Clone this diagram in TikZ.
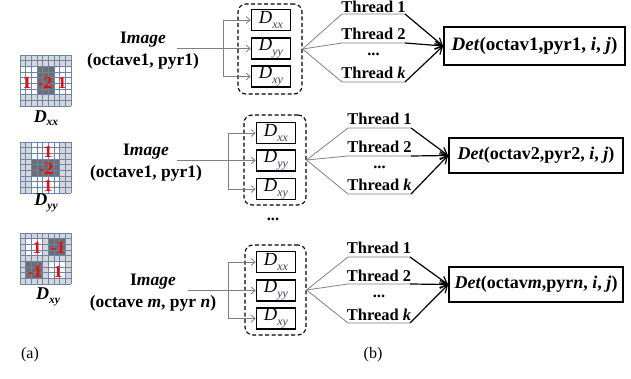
\documentclass[tikz,border=0pt]{standalone}
\usepackage{fontspec}
\setmainfont{Liberation Serif}
\usetikzlibrary{arrows.meta}
\definecolor{conngray}{HTML}{808080}
\definecolor{gridblue}{HTML}{6A84AE}
\definecolor{cellgray}{HTML}{D6D6D6}
\definecolor{celldark}{HTML}{6E6E6E}
\definecolor{numred}{HTML}{FF0000}
\definecolor{subgray}{HTML}{404060}
\newcommand{\fsz}[2]{\fontsize{#1}{#2}\selectfont}
\newcommand{\mysub}[1]{\raisebox{-0.45ex}{\fsz{11.5}{11.5}\itshape #1}}
\newcommand{\boxsub}[1]{\raisebox{-0.55ex}{\fsz{12}{12}\itshape\color{subgray}#1}}
\newcommand{\gridlinesnine}{%
  \foreach \k in {0,...,9} {
    \draw[gridblue, line width=0.45pt] (\k,0) -- (\k,9);
    \draw[gridblue, line width=0.45pt] (0,\k) -- (9,\k);
  }}
\begin{document}
\begin{tikzpicture}[x=1pt,y=-1pt,
  dbox/.style={draw, line width=1.6pt, minimum width=39pt, minimum height=21pt, inner sep=0pt, font=\fsz{18.5}{19}},
  dashbox/.style={draw, line width=1.1pt, rounded corners=8pt, dash pattern=on 4pt off 2.5pt, minimum height=90pt, inner sep=0pt},
  detbox/.style={draw, line width=1.8pt, inner sep=0pt, font=\bfseries\fsz{18}{20}},
  conn/.style={draw=conngray, line width=0.8pt},
  carrow/.style={conn, -{Straight Barb[length=4pt,width=7pt]}},
  final/.style={draw=black, line width=1.2pt, -{Straight Barb[length=7pt,width=8pt]}},
  thr/.style={font=\bfseries\fsz{16.5}{18}, inner sep=0pt, anchor=base},
  imglbl/.style={font=\bfseries\fsz{17.5}{22}, align=center, inner sep=0pt},
  num/.style={text=numred, font=\bfseries\fsz{17}{17}, inner sep=0pt},
  glbl/.style={font=\bfseries\itshape\fsz{18}{18}, inner sep=0pt},
  captxt/.style={font=\fsz{16}{16}, inner sep=0pt}
]
\useasboundingbox (0,0) rectangle (631,379);

% ---------- panel (a) ----------
\begin{scope}[shift={(20,55)}, x=5.667pt, y=-5.667pt]
  \fill[cellgray] (0,0) rectangle (9,9);
  \fill[white] (0,2) rectangle (3,7);
  \fill[celldark] (3,2) rectangle (6,7);
  \fill[white] (6,2) rectangle (9,7);
  \gridlinesnine
\end{scope}
\node[num] (nxa) at (27,83) {1};
\node[num] (nxb) at (45,83) {-2};
\node[num] (nxc) at (62,83) {1};
\node[glbl] (lxx) at (46,118) {D\mysub{xx}};

\begin{scope}[shift={(20,142)}, x=5.667pt, y=-5.667pt]
  \fill[cellgray] (0,0) rectangle (9,9);
  \fill[white] (2,0) rectangle (7,3);
  \fill[celldark] (2,3) rectangle (7,6);
  \fill[white] (2,6) rectangle (7,9);
  \gridlinesnine
\end{scope}
\node[num] (nya) at (48,152) {1};
\node[num] (nyb) at (46,169) {-2};
\node[num] (nyc) at (48,186) {1};
\node[glbl] (lyy) at (46,203) {D\mysub{yy}};

\begin{scope}[shift={(20,233)}, x=5.667pt, y=-5.667pt]
  \fill[cellgray] (0,0) rectangle (9,9);
  \fill[white] (1,1) rectangle (4,4);
  \fill[celldark] (5,1) rectangle (8,4);
  \fill[celldark] (1,5) rectangle (4,8);
  \fill[white] (5,5) rectangle (8,8);
  \gridlinesnine
\end{scope}
\node[num] (nza) at (37,248) {1};
\node[num] (nzb) at (58,248) {-1};
\node[num] (nzc) at (35,272) {-1};
\node[num] (nzd) at (58,272) {1};
\node[glbl] (lxy) at (48,297) {D\mysub{xy}};

\node[captxt] (capa) at (30,355) {(a)};
\node[captxt] (capb) at (373,355) {(b)};

% ---------- row 1 ----------
\node[imglbl] (img1) at (143,51) {I\textit{mage}\\(octave1, pyr1)};
\node[dashbox, minimum width=64pt] (g1) at (270,49) {};
\node[dbox] (xx1) at (271,20) {\textit{D}\boxsub{xx}};
\node[dbox] (yy1) at (271,48.5) {\textit{D}\boxsub{yy}};
\node[dbox] (xy1) at (271,76.5) {\textit{D}\boxsub{xy}};
\coordinate (s1) at (177,48.5);
\coordinate (bt1) at (223,20);
\coordinate (bb1) at (223,76.5);
\draw[carrow] (s1) -- (yy1.west);
\draw[conn] (bt1) -- (bb1);
\draw[carrow] (bt1) -- (xx1.west);
\draw[carrow] (bb1) -- (xy1.west);
\node[detbox, minimum width=181pt, minimum height=38pt, font=\bfseries\fsz{19}{21}] (det1) at (534.5,46) {\textit{Det}(octav1,pyr1, \textit{i}, \textit{j})};
\coordinate (a11) at (342,14); \coordinate (b11) at (405,14);
\coordinate (a12) at (342,43); \coordinate (b12) at (405,43);
\coordinate (a13) at (342,82); \coordinate (b13) at (405,82);
\node[thr] (t11) at (373.5,12.5) {Thread 1};
\node[thr] (t12) at (373.5,40) {Thread 2};
\node[thr] (t1d) at (373.5,56) {...};
\node[thr] (t13) at (373.5,79) {Thread \textit{k}};
\draw[conn] (g1.east) -- (a11) -- (b11);
\draw[conn] (g1.east) -- (a12) -- (b12);
\draw[conn] (g1.east) -- (a13) -- (b13);
\draw[final] (b11) -- (det1.west);
\draw[final] (b12) -- (det1.west);
\draw[final] (b13) -- (det1.west);

% ---------- row 2 ----------
\node[imglbl] (img2) at (146,163) {I\textit{mage}\\(octave1, pyr1)};
\node[dashbox, minimum width=62pt] (g2) at (275,160) {};
\node[dbox] (xx2) at (276,133) {\textit{D}\boxsub{xx}};
\node[dbox] (yy2) at (276,160.5) {\textit{D}\boxsub{yy}};
\node[dbox] (xy2) at (276,189) {\textit{D}\boxsub{xy}};
\node[thr] (gdots) at (273,221) {...};
\coordinate (s2) at (177,160.5);
\coordinate (bt2) at (228,133);
\coordinate (bb2) at (228,189);
\draw[carrow] (s2) -- (yy2.west);
\draw[conn] (bt2) -- (bb2);
\draw[carrow] (bt2) -- (xx2.west);
\draw[carrow] (bb2) -- (xy2.west);
\node[detbox, minimum width=174pt, minimum height=35pt] (det2) at (536,155.5) {\textit{Det}(octav2,pyr2, \textit{i}, \textit{j})};
\coordinate (a21) at (348,128); \coordinate (b21) at (411,128);
\coordinate (a22) at (348,156); \coordinate (b22) at (411,156);
\coordinate (a23) at (348,194); \coordinate (b23) at (411,194);
\node[thr] (t21) at (379.5,125) {Thread 1};
\node[thr] (t22) at (379.5,153) {Thread 2};
\node[thr] (t2d) at (379.5,169) {...};
\node[thr] (t23) at (379.5,191) {Thread \textit{k}};
\draw[conn] (g2.east) -- (a21) -- (b21);
\draw[conn] (g2.east) -- (a22) -- (b22);
\draw[conn] (g2.east) -- (a23) -- (b23);
\draw[final] (b21) -- (det2.west);
\draw[final] (b22) -- (det2.west);
\draw[final] (b23) -- (det2.west);

% ---------- row 3 ----------
\node[imglbl] (img3) at (153,292.5) {I\textit{mage}\\(octave \textit{m}, pyr \textit{n})};
\node[dashbox, minimum width=61pt] (g3) at (275.5,290) {};
\node[dbox] (xx3) at (276,262) {\textit{D}\boxsub{xx}};
\node[dbox] (yy3) at (276,290.5) {\textit{D}\boxsub{yy}};
\node[dbox] (xy3) at (276,318.5) {\textit{D}\boxsub{xy}};
\coordinate (s3) at (188,290.5);
\coordinate (bt3) at (228,262);
\coordinate (bb3) at (228,318.5);
\draw[carrow] (s3) -- (yy3.west);
\draw[conn] (bt3) -- (bb3);
\draw[carrow] (bt3) -- (xx3.west);
\draw[carrow] (bb3) -- (xy3.west);
\node[detbox, minimum width=174pt, minimum height=35pt] (det3) at (536,284.5) {\textit{Det}(octav\textit{m},pyr\textit{n}, \textit{i}, \textit{j})};
\coordinate (a31) at (348,257); \coordinate (b31) at (410,257);
\coordinate (a32) at (348,284); \coordinate (b32) at (410,284);
\coordinate (a33) at (348,323); \coordinate (b33) at (410,323);
\node[thr] (t31) at (379,254) {Thread 1};
\node[thr] (t32) at (379,281) {Thread 2};
\node[thr] (t3d) at (379,297) {...};
\node[thr] (t33) at (379,320) {Thread \textit{k}};
\draw[conn] (g3.east) -- (a31) -- (b31);
\draw[conn] (g3.east) -- (a32) -- (b32);
\draw[conn] (g3.east) -- (a33) -- (b33);
\draw[final] (b31) -- (det3.west);
\draw[final] (b32) -- (det3.west);
\draw[final] (b33) -- (det3.west);
\end{tikzpicture}
\end{document}
